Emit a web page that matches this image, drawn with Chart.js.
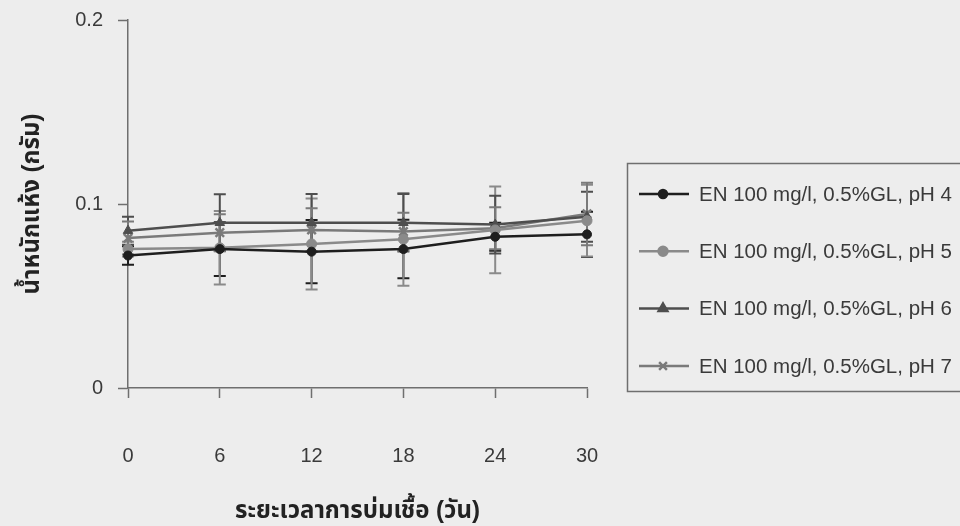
<!DOCTYPE html>
<html lang="th">
  <head>
    <meta charset="UTF-8" />
    <title>น้ำหนักแห้ง</title>
    <script src="https://cdn.jsdelivr.net/npm/chart.js"></script>
    <style>
      html,
      body {
        margin: 0;
        background: #ededed;
      }
      #wrap {
        position: relative;
        width: 960px;
        height: 526px;
      }
    </style>
  </head>
  <body>
    <div id="wrap"><canvas id="dryChart"></canvas></div>
    <script>
      const days = ["0", "6", "12", "18", "24", "30"];
      const seriesLabels = [
        "EN 100 mg/l, 0.5%GL, pH 4",
        "EN 100 mg/l, 0.5%GL, pH 5",
        "EN 100 mg/l, 0.5%GL, pH 6",
        "EN 100 mg/l, 0.5%GL, pH 7",
      ];
      const ph4 = [0.072, 0.0755, 0.0741, 0.0755, 0.0822, 0.0835];
      const ph5 = [0.0755, 0.0762, 0.0783, 0.0808, 0.0859, 0.0909];
      const ph6 = [0.0855, 0.0898, 0.0898, 0.0898, 0.0888, 0.0931];
      const ph7 = [0.0815, 0.0844, 0.0859, 0.085, 0.0868, 0.0946];
      // standard deviations (error bars)
      const ph4Sd = [0.005, 0.0146, 0.0172, 0.0159, 0.0076, 0.0123];
      const ph5Sd = [0.004, 0.02, 0.0247, 0.0252, 0.0236, 0.0195];
      const ph6Sd = [0.0076, 0.0155, 0.0156, 0.0156, 0.0157, 0.0136];
      const ph7Sd = [0.009, 0.01, 0.0118, 0.0103, 0.0114, 0.017];

      const FONT = "'Liberation Sans', Arial, 'Noto Sans Thai', sans-serif";
      const AXIS = "#6f6f6f";

      function makeSet(label, data, sd, color, style, radius) {
        return {
          label,
          data,
          sd,
          borderColor: color,
          backgroundColor: color,
          pointStyle: style,
          pointRadius: radius,
          pointBorderWidth: style === "crossRot" ? 2.5 : 1,
          borderWidth: 2.5,
          tension: 0,
        };
      }

      // error bars through the y scale
      const errorBars = {
        id: "errorBars",
        beforeDatasetsDraw(chart) {
          const ctx = chart.ctx;
          const y = chart.scales.y;
          chart.data.datasets.forEach((ds, i) => {
            const meta = chart.getDatasetMeta(i);
            ctx.save();
            ctx.strokeStyle = ds.borderColor;
            ctx.lineWidth = 2;
            meta.data.forEach((pt, j) => {
              const hi = y.getPixelForValue(ds.data[j] + ds.sd[j]);
              const lo = y.getPixelForValue(ds.data[j] - ds.sd[j]);
              ctx.beginPath();
              ctx.moveTo(pt.x, hi);
              ctx.lineTo(pt.x, lo);
              ctx.moveTo(pt.x - 6, hi);
              ctx.lineTo(pt.x + 6, hi);
              ctx.moveTo(pt.x - 6, lo);
              ctx.lineTo(pt.x + 6, lo);
              ctx.stroke();
            });
            ctx.restore();
          });
        },
      };

      // boxed legend on the right
      const boxLegend = {
        id: "boxLegend",
        afterDraw(chart) {
          const ctx = chart.ctx;
          ctx.save();
          ctx.strokeStyle = AXIS;
          ctx.lineWidth = 1.5;
          ctx.strokeRect(627.5, 163.5, 340, 228);
          chart.data.datasets.forEach((ds, i) => {
            const ry = 194 + i * 57.3;
            ctx.strokeStyle = ds.borderColor;
            ctx.fillStyle = ds.backgroundColor;
            ctx.lineWidth = 2.5;
            ctx.beginPath();
            ctx.moveTo(639, ry);
            ctx.lineTo(689, ry);
            ctx.stroke();
            Chart.helpers.drawPoint(
              ctx,
              {
                pointStyle: ds.pointStyle,
                radius: ds.pointRadius - 0.5,
                borderWidth: ds.pointBorderWidth,
              },
              663,
              ry
            );
            ctx.fillStyle = "#3a3a3a";
            ctx.font = "20.5px " + FONT;
            ctx.textBaseline = "middle";
            ctx.fillText(ds.label, 699, ry + 1);
          });
          ctx.restore();
        },
      };

      new Chart(document.getElementById("dryChart"), {
        type: "line",
        data: {
          labels: days,
          datasets: [
            makeSet(seriesLabels[0], ph4, ph4Sd, "#1e1e1e", "circle", 4.5),
            makeSet(seriesLabels[1], ph5, ph5Sd, "#8a8a8a", "circle", 5),
            makeSet(seriesLabels[2], ph6, ph6Sd, "#4e4e4e", "triangle", 5.5),
            makeSet(seriesLabels[3], ph7, ph7Sd, "#7a7a7a", "crossRot", 6),
          ],
        },
        options: {
          responsive: true,
          maintainAspectRatio: false,
          animation: false,
          layout: { padding: { top: 20, right: 373, bottom: 0, left: 0 } },
          plugins: {
            legend: { display: false },
            tooltip: { enabled: false },
          },
          scales: {
            x: {
              offset: false,
              grid: {
                drawOnChartArea: false,
                tickLength: 10,
                tickColor: AXIS,
                tickWidth: 1.5,
              },
              border: { color: AXIS, width: 1.5 },
              ticks: {
                color: "#3a3a3a",
                font: { family: FONT, size: 20 },
                padding: 46,
                maxRotation: 0,
              },
              title: {
                display: true,
                text: "ระยะเวลาการบ่มเชื้อ (วัน)",
                color: "#222",
                font: { family: FONT, size: 24, weight: "bold" },
                padding: { top: 0, bottom: 0 },
              },
              afterFit(scale) {
                scale.height = 138;
              },
            },
            y: {
              min: 0,
              max: 0.2,
              ticks: {
                stepSize: 0.1,
                color: "#3a3a3a",
                font: { family: FONT, size: 20 },
                padding: 15,
                callback: (v) => (v === 0 ? "0" : v.toFixed(1)),
              },
              grid: {
                drawOnChartArea: false,
                tickLength: 10,
                tickColor: AXIS,
                tickWidth: 1.5,
              },
              border: { color: AXIS, width: 1.5 },
              title: {
                display: true,
                text: "น้ำหนักแห้ง (กรัม)",
                color: "#222",
                font: { family: FONT, size: 24, weight: "bold" },
                padding: { top: 18, bottom: 0 },
              },
              afterFit(scale) {
                scale.width = 128;
                scale.paddingTop = 0;
              },
            },
          },
        },
        plugins: [errorBars, boxLegend],
      });
    </script>
  </body>
</html>
